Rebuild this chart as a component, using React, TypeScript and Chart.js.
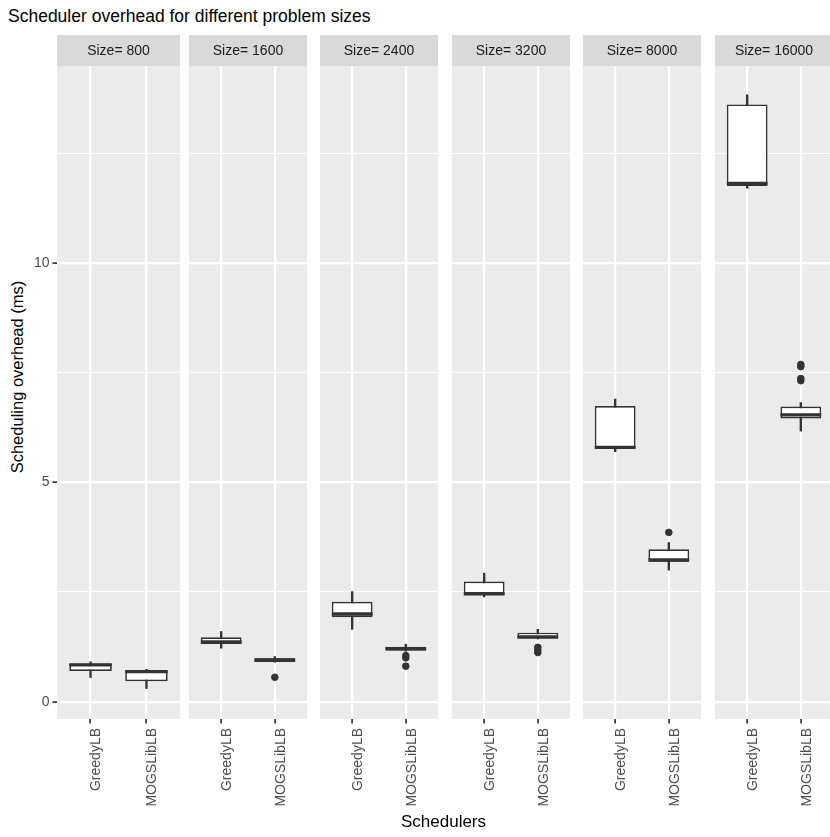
import React, { useEffect, useRef } from 'react';
import { Chart, registerables } from 'chart.js';

Chart.register(...registerables);

const sizes = ['800', '1600', '2400', '3200', '8000', '16000'];
const schedulers = ['GreedyLB', 'MOGSLibLB'];
const yTicks = [0, 2.5, 5, 7.5, 10, 12.5];

const greedyLow = [0.55, 1.22, 1.65, 2.39, 5.7, 11.71];
const greedyQ1 = [0.7, 1.316, 1.925, 2.43, 5.76, 11.76];
const greedyMedian = [0.84, 1.36, 2.0, 2.46, 5.8, 11.82];
const greedyQ3 = [0.87, 1.469, 2.28, 2.74, 6.74, 13.62];
const greedyHigh = [0.91, 1.6, 2.51, 2.93, 6.9, 13.84];
const greedyOutliers: number[][] = [[], [], [], [], [], []];

const mogsLow = [0.3, 0.9, 1.15, 1.43, 3.0, 6.17];
const mogsQ1 = [0.465, 0.905, 1.163, 1.446, 3.19, 6.46];
const mogsMedian = [0.686, 0.95, 1.21, 1.475, 3.23, 6.54];
const mogsQ3 = [0.707, 0.99, 1.254, 1.574, 3.475, 6.73];
const mogsHigh = [0.74, 1.03, 1.31, 1.65, 3.63, 6.82];
const mogsOutliers: number[][] = [[], [0.556], [1.05, 1.0, 0.81], [1.24, 1.18, 1.12], [3.86], [7.69, 7.64, 7.37, 7.32]];

const Y_MIN = -0.395;
const Y_MAX = 14.496;

const FONT = "'Liberation Sans', Arial, Helvetica, sans-serif";
const DARK = '#333333';

const facetPlugin = {
  id: 'facet',
  beforeDraw(chart: any, _args: any, opts: any) {
    const { ctx, chartArea: a } = chart;
    ctx.save();
    ctx.fillStyle = '#ebebeb';
    ctx.fillRect(a.left, a.top, a.right - a.left, a.bottom - a.top);
    ctx.fillStyle = '#d9d9d9';
    ctx.fillRect(a.left, a.top - 31, a.right - a.left, 31);
    ctx.fillStyle = '#1a1a1a';
    ctx.font = `14px ${FONT}`;
    ctx.textAlign = 'center';
    ctx.textBaseline = 'middle';
    ctx.fillText(opts.label, (a.left + a.right) / 2, a.top - 15);
    ctx.restore();
  },
  afterDatasetsDraw(chart: any, _args: any, opts: any) {
    const { ctx } = chart;
    const meta = chart.getDatasetMeta(1);
    const yScale = chart.scales.y;
    ctx.save();
    ctx.strokeStyle = DARK;
    ctx.lineWidth = 3.4;
    ctx.lineCap = 'butt';
    meta.data.forEach((bar: any, j: number) => {
      const { x, width } = bar.getProps(['x', 'width'], true);
      const py = yScale.getPixelForValue(opts.medians[j]);
      ctx.beginPath();
      ctx.moveTo(x - width / 2, py);
      ctx.lineTo(x + width / 2, py);
      ctx.stroke();
    });
    ctx.restore();
  },
};

function Panel({ index }: { index: number }) {
  const ref = useRef<HTMLCanvasElement>(null);
  const first = index === 0;
  const axisW = first ? 57 : 20;
  const panelLeft = Math.round(57 + index * 131.6);
  const width = axisW + 123;

  useEffect(() => {
    const lows = [greedyLow[index], mogsLow[index]];
    const q1s = [greedyQ1[index], mogsQ1[index]];
    const q3s = [greedyQ3[index], mogsQ3[index]];
    const highs = [greedyHigh[index], mogsHigh[index]];
    const medians = [greedyMedian[index], mogsMedian[index]];
    const outliers = [
      ...greedyOutliers[index].map((v) => ({ x: 1, y: v })),
      ...mogsOutliers[index].map((v) => ({ x: 2, y: v })),
    ];
    const isMajor = (ctx: any) => ctx.tick && Math.abs(ctx.tick.value % 5) < 1e-9;
    const canvas = ref.current as HTMLCanvasElement;

    const chart = new Chart(canvas, {
      type: 'bar',
      data: {
        datasets: [
          {
            type: 'bar',
            label: 'whisker',
            data: schedulers.map((_s, j) => ({ x: j + 1, y: [lows[j], highs[j]] })),
            backgroundColor: DARK,
            borderWidth: 0,
            barThickness: 1.7,
            grouped: false,
            order: 3,
          } as any,
          {
            type: 'bar',
            label: 'box',
            data: schedulers.map((_s, j) => ({ x: j + 1, y: [q1s[j], q3s[j]] })),
            backgroundColor: '#ffffff',
            borderColor: DARK,
            borderWidth: 1.7,
            borderSkipped: false,
            barPercentage: 0.76,
            categoryPercentage: 1,
            grouped: false,
            order: 2,
          } as any,
          {
            type: 'scatter',
            label: 'outliers',
            data: outliers,
            backgroundColor: DARK,
            borderColor: DARK,
            borderWidth: 1,
            pointRadius: 3.3,
            order: 1,
          } as any,
        ],
      },
      options: {
        animation: false,
        responsive: false,
        maintainAspectRatio: false,
        events: [],
        layout: { padding: { top: 66, left: 0, right: 0, bottom: 0 } },
        plugins: {
          legend: { display: false },
          tooltip: { enabled: false },
          title: { display: false },
          facet: { label: `Size= ${sizes[index]}`, medians },
        } as any,
        scales: {
          x: {
            type: 'linear',
            min: 0.4,
            max: 2.6,
            offset: false,
            afterBuildTicks: (s: any) => {
              s.ticks = schedulers.map((_n, j) => ({ value: j + 1 }));
            },
            afterFit: (s: any) => {
              s.height = 118;
              s.paddingLeft = 0;
              s.paddingRight = 0;
            },
            grid: {
              color: '#ffffff',
              lineWidth: 2.2,
              offset: false,
              drawTicks: true,
              tickLength: 4.5,
              tickColor: DARK,
              tickWidth: 1.7,
            },
            border: { display: false },
            ticks: {
              autoSkip: false,
              maxRotation: 90,
              minRotation: 90,
              padding: 4.5,
              labelOffset: 6,
              color: '#4d4d4d',
              font: { family: FONT, size: 14, lineHeight: 1.0 },
              callback: (_v: any, i: number) => schedulers[i],
            },
          } as any,
          y: {
            type: 'linear',
            min: Y_MIN,
            max: Y_MAX,
            afterBuildTicks: (s: any) => {
              s.ticks = yTicks.map((v) => ({ value: v }));
            },
            afterFit: (s: any) => {
              s.width = axisW;
              s.paddingTop = 0;
              s.paddingBottom = 0;
            },
            grid: {
              color: '#ffffff',
              lineWidth: (ctx: any) => (isMajor(ctx) ? 2.2 : 1.1),
              drawTicks: first,
              tickLength: 4.5,
              tickWidth: 1.7,
              tickColor: (ctx: any) => (isMajor(ctx) ? DARK : 'rgba(0,0,0,0)'),
            },
            border: { display: false },
            ticks: {
              display: first,
              padding: 3,
              color: '#4d4d4d',
              font: { family: FONT, size: 14 },
              callback: (v: any) => (Math.abs(v % 5) < 1e-9 ? String(v) : ''),
            },
          } as any,
        },
      },
      plugins: [facetPlugin as any],
    });
    // align the library's computed chart area with the facet's panel position
    canvas.style.left = `${panelLeft - chart.chartArea.left}px`;
    return () => chart.destroy();
  }, [index]);

  return (
    <canvas
      ref={ref}
      width={width}
      height={837}
      style={{ position: 'absolute', left: panelLeft - axisW, top: 0, width, height: 837 }}
    />
  );
}

export default function App() {
  return (
    <div
      style={{
        position: 'absolute',
        left: 0,
        top: 0,
        width: 830,
        height: 837,
        overflow: 'hidden',
        background: '#ffffff',
        fontFamily: FONT,
      }}
    >
      <div
        style={{
          position: 'absolute',
          left: 8,
          top: 6,
          fontSize: 17.5,
          lineHeight: '20px',
          color: '#000000',
          whiteSpace: 'nowrap',
        }}
      >
        Scheduler overhead for different problem sizes
      </div>
      <div
        style={{
          position: 'absolute',
          left: 17 - 200,
          top: 377 - 10,
          width: 400,
          height: 20,
          lineHeight: '20px',
          fontSize: 16.5,
          textAlign: 'center',
          transform: 'rotate(-90deg)',
          whiteSpace: 'nowrap',
          color: '#000000',
        }}
      >
        Scheduling overhead (ms)
      </div>
      {sizes.map((s, i) => (
        <Panel key={s} index={i} />
      ))}
      <div
        style={{
          position: 'absolute',
          left: 57,
          width: 773,
          top: 812,
          height: 20,
          lineHeight: '20px',
          fontSize: 17,
          textAlign: 'center',
          whiteSpace: 'nowrap',
          color: '#000000',
        }}
      >
        Schedulers
      </div>
    </div>
  );
}
